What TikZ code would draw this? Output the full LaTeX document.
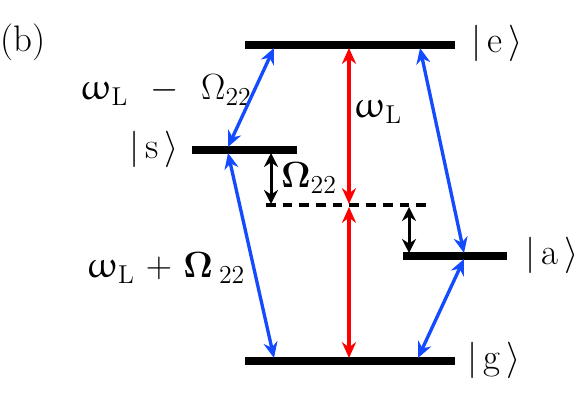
\documentclass[tikz,border=0pt]{standalone}
\usepackage[no-math]{fontspec}
\usepackage[Euler]{upgreek}
\usepackage{tikz}
\usetikzlibrary{arrows.meta}
\definecolor{beamblue}{RGB}{20,75,255}
\definecolor{beamred}{RGB}{255,0,0}
\newcommand{\ket}[1]{$|\,$#1$\,\rangle$}
\newcommand{\wL}{$\upomega$\textsubscript{L}}
\newcommand{\Om}{$\Omega$}
\newcommand{\bOm}{$\mathbf{\Omega}$}
\tikzset{%
        x = 0.02cm,
        y = -0.02cm,
        font = \fontsize{21}{24}\selectfont,
        level/.style = {draw = black, line width = 4pt},
        virtual/.style = {draw = black, line width = 1.9pt,
                          dash pattern = on 5.5pt off 4pt},
        beam/.style = {line width = 1.9pt,
                       {Stealth[length=9pt,width=8pt]}-{Stealth[length=9pt,width=8pt]}},
        gapshift/.style = {draw = black, line width = 1.7pt,
                        {Stealth[length=8pt,width=8pt]}-{Stealth[length=8pt,width=8pt]}}
}

\begin{document}
\begin{tikzpicture}
            \useasboundingbox (0,0) rectangle (580,405);
            % levels
            \draw[level] (245,45) -- (455,45);
            \draw[level] (192,150) -- (297,150);
            \draw[level] (403,256) -- (507,256);
            \draw[level] (245,361) -- (455,361);
            \draw[virtual] (266,205) -- (428,205);
            % ends of the transitions
            \coordinate (eL) at (274,48);
            \coordinate (eM) at (349,48);
            \coordinate (eR) at (420,48);
            \coordinate (sU) at (228,147);
            \coordinate (sD) at (228,153);
            \coordinate (aU) at (464,253);
            \coordinate (aD) at (464,259);
            \coordinate (gL) at (274,358);
            \coordinate (gM) at (349,358);
            \coordinate (gR) at (418,358);
            \coordinate (vU) at (349,204);
            \coordinate (vD) at (349,207);
            \coordinate (sB) at (271,153);
            \coordinate (vL) at (271,204);
            \coordinate (vR) at (409,207);
            \coordinate (aT) at (409,253);
            % labels
            \node (b) at (23,42) {(b)};
            \node (ke) at (497,43) {\ket{e}};
            \node (ks) at (154,149) {\ket{s}};
            \node (ka) at (552,255) {\ket{a}};
            \node (kg) at (494,360) {\ket{g}};
            \node (minus) at (166,90) {\wL\ \ $-$\ \ \Om\textsubscript{22}};
            \node (plus) at (166,268) {\wL\ $+$ \bOm\,\textsubscript{22}};
            \node (wl) at (378,112) {\wL};
            \node (omega) at (309,178) {\bOm\textsubscript{22}};
            % transitions
            \draw[beam, beamred] (eM) -- (vU);
            \draw[beam, beamred] (vD) -- (gM);
            \draw[beam, beamblue] (sU) -- (eL);
            \draw[beam, beamblue] (sD) -- (gL);
            \draw[beam, beamblue] (eR) -- (aU);
            \draw[beam, beamblue] (aD) -- (gR);
            \draw[gapshift] (sB) -- (vL);
            \draw[gapshift] (vR) -- (aT);
\end{tikzpicture}
\end{document}
